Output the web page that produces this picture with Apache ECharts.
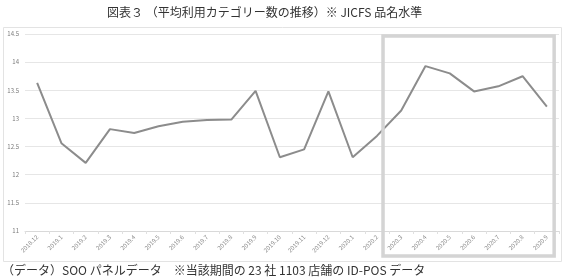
<!DOCTYPE html>
<html>
<head>
<meta charset="utf-8">
<script src="https://cdn.jsdelivr.net/npm/echarts@6/dist/echarts.min.js"></script>
<style>
  html, body { margin: 0; padding: 0; background: #fff; }
  #chart { width: 565px; height: 279px; }
</style>
</head>
<body>
<div id="chart"></div>
<script>
const months = [
  '2018.12', '2019.1', '2019.2', '2019.3', '2019.4', '2019.5', '2019.6',
  '2019.7', '2019.8', '2019.9', '2019.10', '2019.11', '2019.12',
  '2020.1', '2020.2', '2020.3', '2020.4', '2020.5', '2020.6', '2020.7',
  '2020.8', '2020.9'
]
const avgCategories = [
  13.63, 12.56, 12.21, 12.81, 12.74, 12.86, 12.94,
  12.97, 12.98, 13.49, 12.31, 12.45, 13.48,
  12.31, 12.69, 13.14, 13.93, 13.8, 13.48, 13.57,
  13.75, 13.21
]
const highlightFrom = '2020.3'
const highlightTo = '2020.9'

const TITLE = '図表３ （平均利用カテゴリー数の推移）※ JICFS 品名水準'
const NOTE = '（データ）SOO パネルデータ　※当該期間の 23 社 1103 店舗の ID-POS データ'
const FONT = '"Noto Sans CJK JP", "Noto Sans", sans-serif'

const chart = echarts.init(document.getElementById('chart'))

const option = {
  animation: false,
  grid: { left: 25, right: 6, top: 34, bottom: 48 },
  xAxis: {
    type: 'category',
    data: months,
    boundaryGap: true,
    axisLine: { lineStyle: { color: '#d9d9d9' } },
    axisTick: { show: true, length: 3, lineStyle: { color: '#e0e0e0' } },
    axisLabel: {
      interval: 0,
      rotate: 45,
      fontSize: 6,
      color: '#8a8a8a',
      margin: 5,
      fontFamily: FONT
    }
  },
  yAxis: {
    type: 'value',
    min: 11,
    max: 14.5,
    interval: 0.5,
    axisLine: { show: false },
    axisTick: { show: false },
    axisLabel: { fontSize: 6, color: '#7a7a7a', margin: 6, fontFamily: FONT },
    splitLine: { lineStyle: { color: '#e6e6e6' } }
  },
  series: [
    {
      type: 'line',
      data: avgCategories,
      showSymbol: false,
      lineStyle: { color: '#8c8c8c', width: 2 },
      z: 3
    }
  ],
  graphic: []
}
chart.setOption(option)

// frame + highlight box placed from the axis scale
const first = chart.convertToPixel({ xAxisIndex: 0 }, highlightFrom)
const last = chart.convertToPixel({ xAxisIndex: 0 }, highlightTo)
const step = chart.convertToPixel({ xAxisIndex: 0 }, months[1]) -
  chart.convertToPixel({ xAxisIndex: 0 }, months[0])
const yTop = chart.convertToPixel({ yAxisIndex: 0 }, 14.5)

chart.setOption({
  graphic: [
    {
      type: 'text',
      left: 107,
      top: 6,
      style: { text: TITLE, font: '12px ' + FONT, fill: '#333' }
    },
    {
      type: 'rect',
      shape: { x: 3.5, y: 27.5, width: 558, height: 234 },
      style: { fill: 'none', stroke: '#e3e3e3', lineWidth: 1 },
      silent: true
    },
    {
      type: 'rect',
      shape: {
        x: first - step * 0.75,
        y: yTop + 2,
        width: (last - first) + step * 1.05,
        height: 256 - yTop - 2
      },
      style: { fill: 'none', stroke: '#d4d4d4', lineWidth: 3.5 },
      silent: true,
      z: 10
    },
    {
      type: 'text',
      left: 2,
      top: 264,
      style: { text: NOTE, font: '12px ' + FONT, fill: '#333' }
    }
  ]
})
</script>
</body>
</html>
